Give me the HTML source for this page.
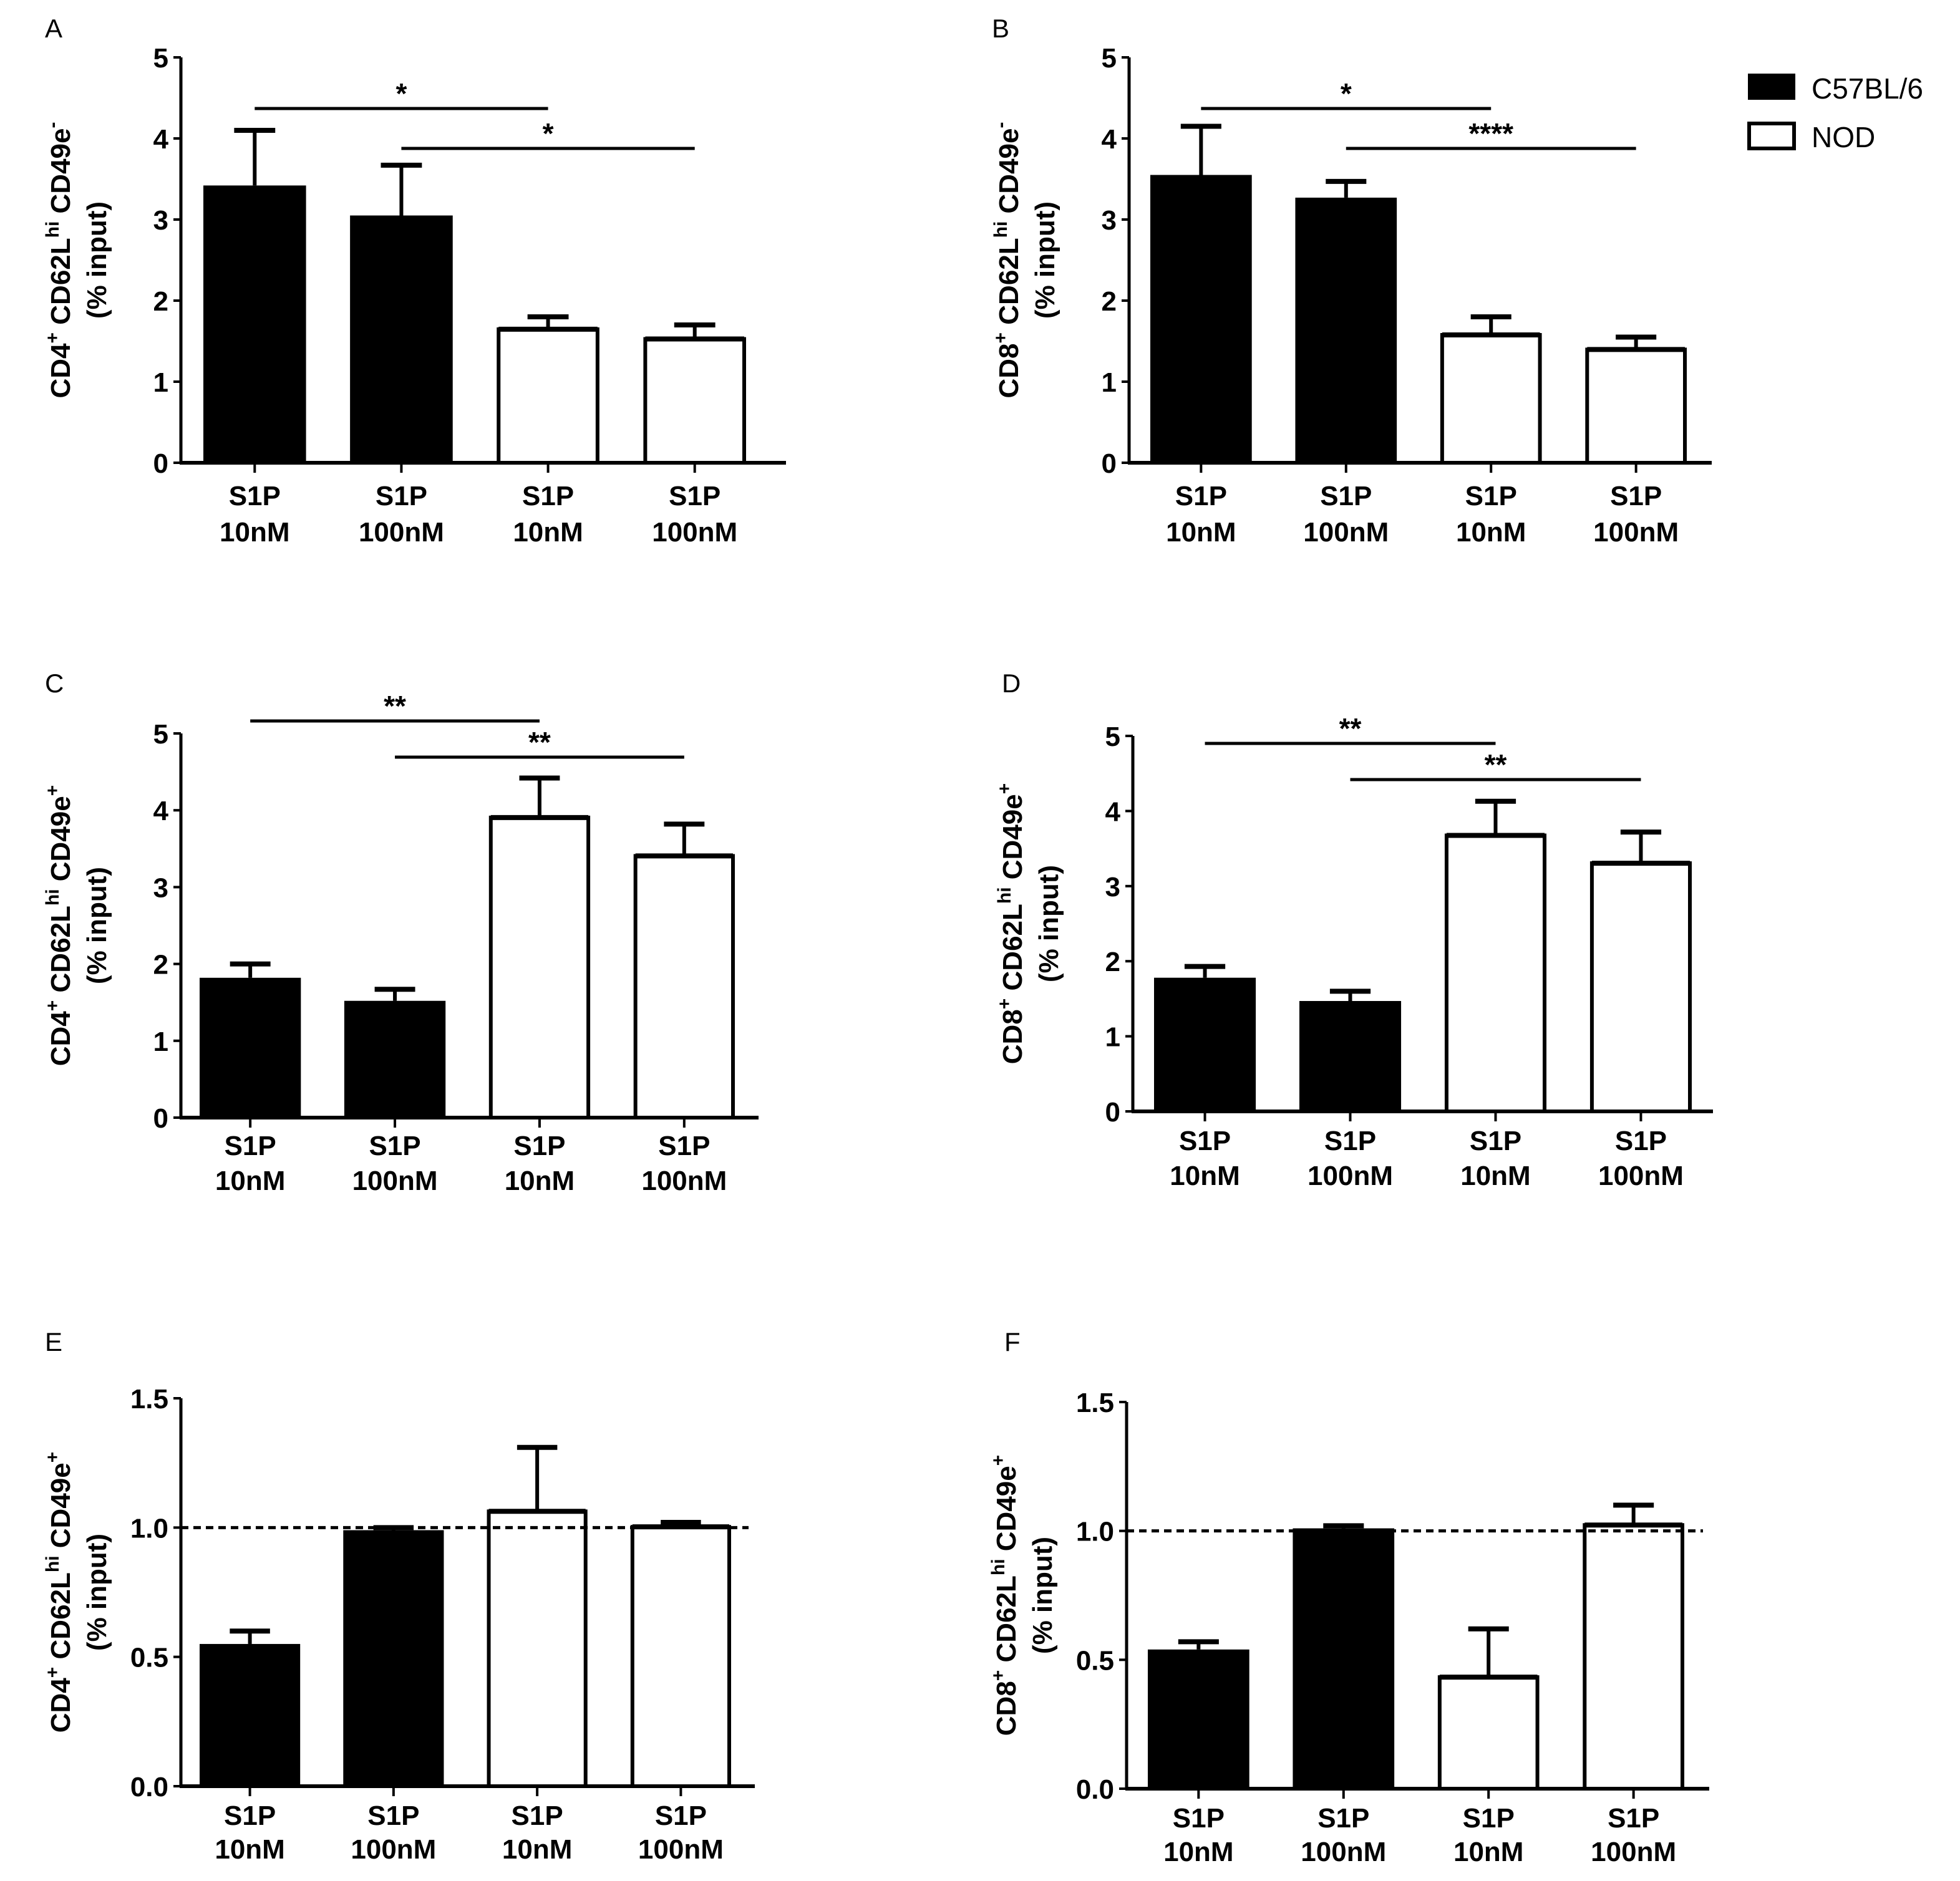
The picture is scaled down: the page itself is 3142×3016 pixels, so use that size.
<!DOCTYPE html>
<html><head><meta charset="utf-8">
<style>
html,body{margin:0;padding:0;background:#fff;}
svg{display:block;}
text{font-family:"Liberation Sans Narrow","Liberation Sans",sans-serif;}
</style></head>
<body>
<svg id="fig" width="3142" height="3016" viewBox="0 0 1571 1508" xmlns="http://www.w3.org/2000/svg">
<g>
  <rect x="1401" y="59" width="38" height="21" fill="#000"/>
  <text x="1452" y="79" font-size="23">C57BL/6</text>
  <rect x="1402" y="99" width="36" height="20" fill="#fff" stroke="#000" stroke-width="3"/>
  <text x="1452" y="118" font-size="23">NOD</text>
</g>
</svg>
<script>
const categories = ["S1P|10nM","S1P|100nM","S1P|10nM","S1P|100nM"];
const strains = ["C57BL/6","C57BL/6","NOD","NOD"];
const valuesA = [3.42,3.05,1.67,1.55];
const errorsA = [4.1,3.67,1.8,1.7];
const valuesB = [3.55,3.27,1.6,1.42];
const errorsB = [4.15,3.47,1.8,1.55];
const valuesC = [1.82,1.52,3.93,3.43];
const errorsC = [2.0,1.67,4.42,3.82];
const valuesD = [1.78,1.47,3.7,3.33];
const errorsD = [1.93,1.6,4.13,3.72];
const valuesE = [0.55,0.99,1.07,1.01];
const errorsE = [0.6,1.0,1.31,1.02];
const valuesF = [0.54,1.01,0.44,1.03];
const errorsF = [0.57,1.02,0.62,1.1];
const ticks5 = ["0","1","2","3","4","5"];
const ticks15 = ["0.0","0.5","1.0","1.5"];
const tickVals5 = [0,1,2,3,4,5];
const tickVals15 = [0,0.5,1.0,1.5];
const sigA = [[0,2,"*"],[1,3,"*"]];
const sigB = [[0,2,"*"],[1,3,"****"]];
const sigC = [[0,2,"**"],[1,3,"**"]];
const sigD = [[0,2,"**"],[1,3,"**"]];
const refLineEF = 1.0;

const NS="http://www.w3.org/2000/svg";
const svg=document.getElementById('fig');
function mk(tag,attrs,parent){const e=document.createElementNS(NS,tag);for(const k in attrs)e.setAttribute(k,attrs[k]);(parent||svg).appendChild(e);return e;}

const panels=[
 {id:'a',letter:'A',lx:36,ly:30,ax:145,y0:371,ytop:46,ymax:5,xEnd:630,x0:163,x1:598,vals:valuesA,errs:errorsA,ticks:ticks5,tv:tickVals5,sig:sigA,sigY:[87,119],cell:'CD4',sup3:'-',lab1:405,lab2:434},
 {id:'b',letter:'B',lx:795,ly:30,ax:905,y0:371,ytop:46,ymax:5,xEnd:1372,x0:922,x1:1352,vals:valuesB,errs:errorsB,ticks:ticks5,tv:tickVals5,sig:sigB,sigY:[87,119],cell:'CD8',sup3:'-',lab1:405,lab2:434},
 {id:'c',letter:'C',lx:36,ly:555,ax:145,y0:896,ytop:588,ymax:5,xEnd:608,x0:160,x1:589,vals:valuesC,errs:errorsC,ticks:ticks5,tv:tickVals5,sig:sigC,sigY:[578,607],cell:'CD4',sup3:'+',lab1:926,lab2:954},
 {id:'d',letter:'D',lx:803,ly:555,ax:908,y0:891,ytop:590,ymax:5,xEnd:1373,x0:925,x1:1356,vals:valuesD,errs:errorsD,ticks:ticks5,tv:tickVals5,sig:sigD,sigY:[596,625],cell:'CD8',sup3:'+',lab1:922,lab2:950},
 {id:'e',letter:'E',lx:36,ly:1083,ax:145,y0:1432,ytop:1121,ymax:1.5,xEnd:605,x0:160,x1:586,vals:valuesE,errs:errorsE,ticks:ticks15,tv:tickVals15,sig:[],sigY:[],cell:'CD4',sup3:'+',lab1:1463,lab2:1490,ref:refLineEF},
 {id:'f',letter:'F',lx:805,ly:1083,ax:903,y0:1434,ytop:1124,ymax:1.5,xEnd:1370,x0:920,x1:1350,vals:valuesF,errs:errorsF,ticks:ticks15,tv:tickVals15,sig:[],sigY:[],cell:'CD8',sup3:'+',lab1:1465,lab2:1492,ref:refLineEF}
];

panels.forEach(p=>{
  const g=mk('g',{});
  
  
  const yS=v=>p.y0-(v/p.ymax)*(p.y0-p.ytop);
  const n=p.vals.length;
  const slot=(p.x1-p.x0)/(n-0.3);
  const bw=slot*0.7;
  const xc=i=>p.x0+bw/2+i*slot;
  const L=mk('text',{x:p.lx,y:p.ly,'font-size':21,'font-family':'Liberation Sans, sans-serif'},g);
  L.textContent=p.letter;
  
  
  p.vals.forEach((v,i)=>{
    const black=strains[i]==="C57BL/6";
    const x=xc(i)-bw/2, top=yS(v);
    const eb=mk('g',{},g);
    
    
    mk('line',{x1:xc(i),x2:xc(i),y1:top,y2:yS(p.errs[i]),stroke:'#000','stroke-width':3},eb);
    mk('line',{x1:xc(i)-bw*0.2,x2:xc(i)+bw*0.2,y1:yS(p.errs[i]),y2:yS(p.errs[i]),stroke:'#000','stroke-width':4},eb);
    const r=mk('rect',{x:black?x:x+1.5,y:black?top:top+1.5,width:black?bw:bw-3,height:black?(p.y0-top):(p.y0-top-1.5),fill:black?'#000':'#fff',stroke:'#000','stroke-width':black?0:3},g);
    
    
    if(!black){mk('line',{x1:x+1.5,x2:x+bw-1.5,y1:top+1.5,y2:top+1.5,stroke:'#000','stroke-width':4},g);}
    const lab=categories[i].split('|');
    const t1=mk('text',{x:xc(i),y:p.lab1,'text-anchor':'middle','font-size':22,'font-weight':'bold'},g);
    t1.textContent=lab[0];
    
    
    const t2=mk('text',{x:xc(i),y:p.lab2,'text-anchor':'middle','font-size':22,'font-weight':'bold'},g);
    t2.textContent=lab[1];
    
    
    mk('line',{x1:xc(i),x2:xc(i),y1:p.y0,y2:p.y0+8,stroke:'#000','stroke-width':2},g);
  });
  if(p.ref!==undefined){
    const d=mk('line',{x1:p.ax,x2:p.xEnd-5,y1:yS(p.ref),y2:yS(p.ref),stroke:'#000','stroke-width':2.5,'stroke-dasharray':'6,4'},g);
    
    
  }
  const ya=mk('line',{x1:p.ax,x2:p.ax,y1:p.ytop,y2:p.y0+1,stroke:'#000','stroke-width':2.5},g);
  
  
  const xa=mk('line',{x1:p.ax-1,x2:p.xEnd,y1:p.y0,y2:p.y0,stroke:'#000','stroke-width':3},g);
  
  
  p.tv.forEach((tv,k)=>{
    mk('line',{x1:p.ax-6,x2:p.ax,y1:yS(tv),y2:yS(tv),stroke:'#000','stroke-width':2},g);
    const t=mk('text',{x:p.ax-10,y:yS(tv)+8,'text-anchor':'end','font-size':22,'font-weight':'bold'},g);
    t.textContent=p.ticks[k];
    
    
  });
  const cy=(p.y0+p.ytop)/2;
  const yt=mk('text',{transform:`translate(${p.ax-89},${cy}) rotate(-90)`,'text-anchor':'middle','font-size':22,'font-weight':'bold','font-family':'Liberation Sans, sans-serif'},g);
  
  
  yt.innerHTML=`${p.cell}<tspan dy="-9" font-size="15">+</tspan><tspan dy="9"> CD62L</tspan><tspan dy="-9" font-size="15">hi</tspan><tspan dy="9"> CD49e</tspan><tspan dy="-9" font-size="15">${p.sup3}</tspan>`;
  const yt2=mk('text',{transform:`translate(${p.ax-60},${cy}) rotate(-90)`,'text-anchor':'middle','font-size':22,'font-weight':'bold','font-family':'Liberation Sans, sans-serif'},g);
  yt2.textContent='(% input)';
  
  
  p.sig.forEach((s,k)=>{
    const sy=p.sigY[k];
    const sl=mk('line',{x1:xc(s[0]),x2:xc(s[1]),y1:sy,y2:sy,stroke:'#000','stroke-width':2.5},g);
    
    
    const st=mk('text',{x:(xc(s[0])+xc(s[1]))/2,y:sy-4,'text-anchor':'middle','font-size':23,'font-weight':'bold'},g);
    st.textContent=s[2];
    
    
  });
});
</script>
</body></html>
